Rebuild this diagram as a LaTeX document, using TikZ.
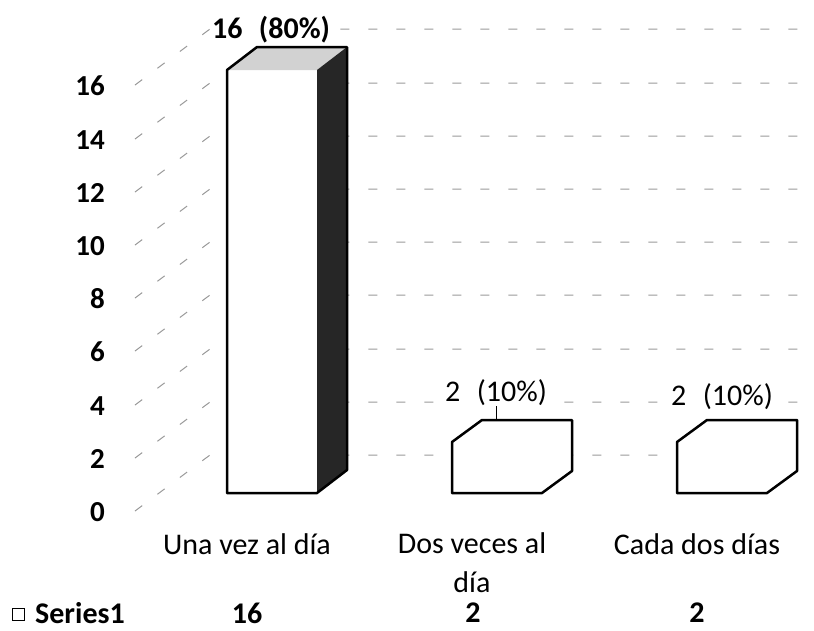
\documentclass[tikz,border=0pt]{standalone}
\usepackage{fontspec}
\setmainfont{Carlito}
\begin{document}
\begin{tikzpicture}[x=1pt,y=-1pt,
    grid/.style={gray!80,line width=1pt,dash pattern=on 9pt off 19pt},
    barline/.style={line width=2.5pt,line join=round},
    txt/.style={font=\fontsize{30}{39}\selectfont,inner sep=0pt},
    btxt/.style={font=\bfseries\fontsize{30}{39}\selectfont,inner sep=0pt},
    axislbl/.style={font=\bfseries\fontsize{29}{35}\selectfont,inner sep=0pt,anchor=east}]
  \useasboundingbox (0,0) rectangle (814,630);
  % side wall and back wall
  \coordinate (f0) at (135,511);  \coordinate (b0) at (210,455);  \coordinate (e0) at (805,455);
  \coordinate (f2) at (135,458);  \coordinate (b2) at (210,402);  \coordinate (e2) at (805,402);
  \coordinate (f4) at (135,405);  \coordinate (b4) at (210,349);  \coordinate (e4) at (805,349);
  \coordinate (f6) at (135,351);  \coordinate (b6) at (210,295);  \coordinate (e6) at (805,295);
  \coordinate (f8) at (135,298);  \coordinate (b8) at (210,242);  \coordinate (e8) at (805,242);
  \coordinate (f10) at (135,245); \coordinate (b10) at (210,189); \coordinate (e10) at (805,189);
  \coordinate (f12) at (135,192); \coordinate (b12) at (210,136); \coordinate (e12) at (805,136);
  \coordinate (f14) at (135,139); \coordinate (b14) at (210,83);  \coordinate (e14) at (805,83);
  \coordinate (f16) at (135,85);  \coordinate (b16) at (210,29);  \coordinate (e16) at (805,29);
  \begin{scope}[grid]
    \draw (f0) -- (b0) -- (e0);
    \draw (f2) -- (b2) -- (e2);
    \draw (f4) -- (b4) -- (e4);
    \draw (f6) -- (b6) -- (e6);
    \draw (f8) -- (b8) -- (e8);
    \draw (f10) -- (b10) -- (e10);
    \draw (f12) -- (b12) -- (e12);
    \draw (f14) -- (b14) -- (e14);
    \draw (f16) -- (b16) -- (e16);
  \end{scope}
  % axis
  \draw
    (105,512) node[axislbl] (y0){0}
    (105,459) node[axislbl] (y2){2}
    (105,406) node[axislbl] (y4){4}
    (105,352) node[axislbl] (y6){6}
    (105,299) node[axislbl] (y8){8}
    (105,246) node[axislbl] (y10){10}
    (105,193) node[axislbl] (y12){12}
    (105,140) node[axislbl] (y14){14}
    (105,86) node[axislbl] (y16){16};
  % bar 1
  \fill[white] (227,70) rectangle (317,493);
  \fill[gray!35] (227,70) -- (257,47) -- (347,47) -- (317,70) -- cycle;
  \fill[black!85] (317,70) -- (347,47) -- (347,470) -- (317,493) -- cycle;
  \draw[barline] (227,493) -- (227,70) -- (257,47) -- (347,47) -- (347,470) -- (317,493) -- cycle;
  % bar 2 and bar 3
  \draw[barline,fill=white] (452,493) -- (452,442) -- (482,420) -- (572,420) -- (572,471) -- (542,493) -- cycle;
  \draw[barline,fill=white] (677,493) -- (677,442) -- (707,420) -- (797,420) -- (797,471) -- (767,493) -- cycle;
  % data labels
  \draw
    (271,30) node[btxt,fill=white] (d1){16\hspace{0.55em}(80\%)}
    (496,393) node[txt,fill=white] (d2){2\hspace{0.55em}(10\%)}
    (722,397) node[txt,fill=white] (d3){2\hspace{0.55em}(10\%)};
  \coordinate (t2) at (496,420);
  \draw[line width=0.8pt] (d2.south) -- (t2);
  % categories
  \draw
    (247,544) node[txt] (c1){Una vez al día}
    (472,563) node[txt,align=center] (c2){Dos veces al\\día}
    (697,544) node[txt] (c3){Cada dos días};
  % data table
  \node[draw,line width=1pt,minimum size=12pt,inner sep=0pt] (key) at (18,614) {};
  \node[btxt,anchor=west] (s1) at (35,613) {Series1};
  \draw
    (247,613) node[btxt] (v1){16}
    (473,613) node[btxt] (v2){2}
    (697,613) node[btxt] (v3){2};
\end{tikzpicture}
\end{document}
